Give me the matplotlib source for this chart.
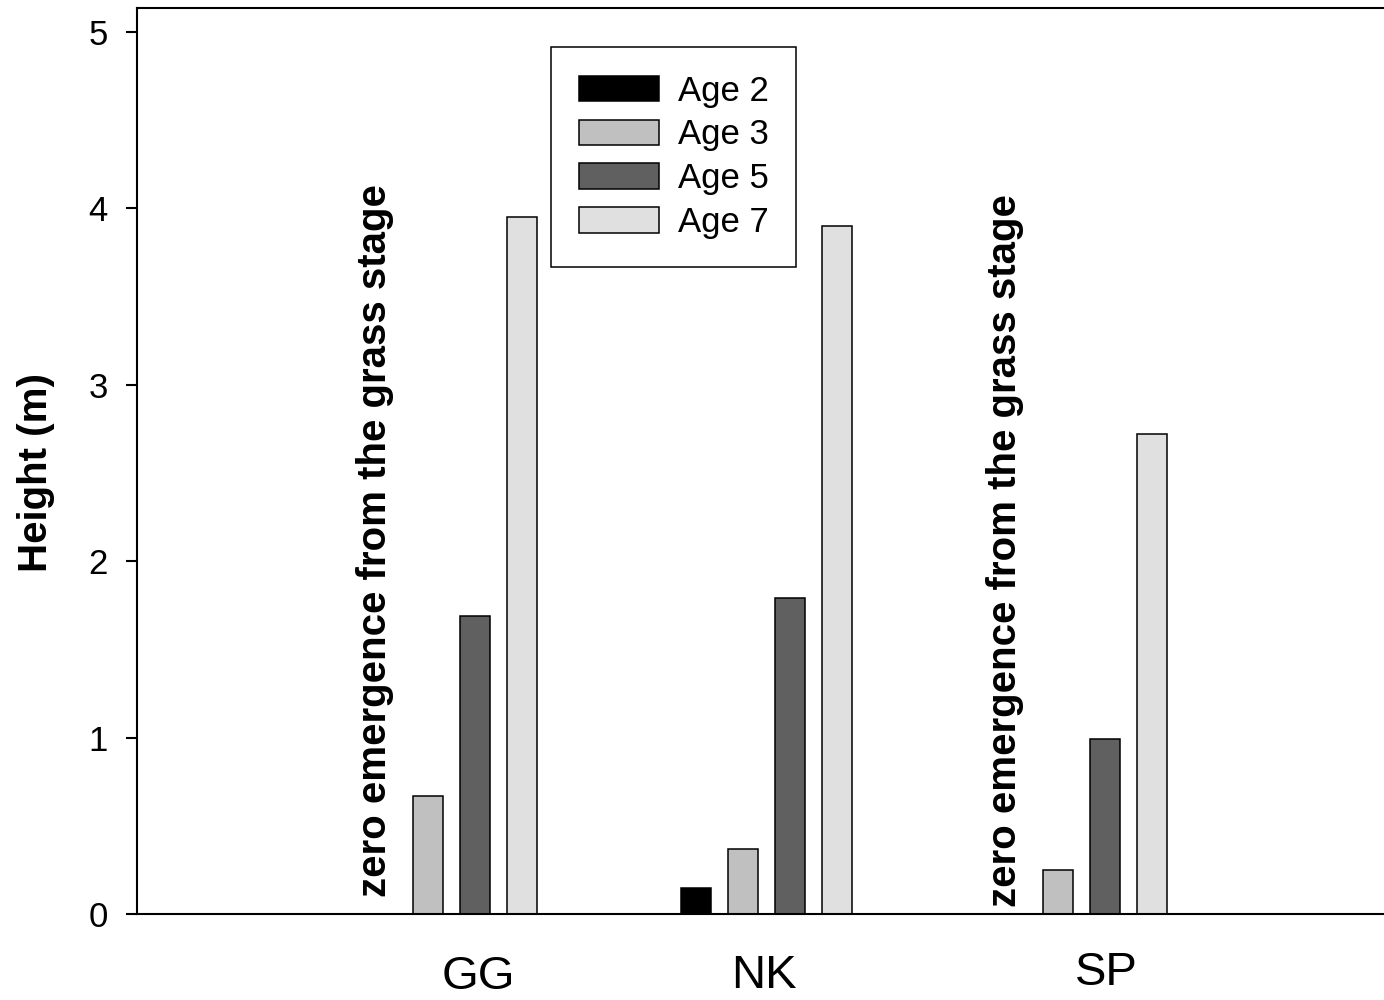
import numpy as np
import matplotlib
matplotlib.use('Agg')
import matplotlib.pyplot as plt

# data
sites = ['GG', 'NK', 'SP']
ages = ['Age 2', 'Age 3', 'Age 5', 'Age 7']
age2 = [np.nan, 0.15, np.nan]
age3 = [0.67, 0.37, 0.25]
age5 = [1.69, 1.79, 0.99]
age7 = [3.95, 3.90, 2.72]
colors = ['#000000', '#c0c0c0', '#606060', '#e0e0e0']
note = 'zero emergence from the grass stage'
no_emergence = ['GG', 'SP']

plt.rcParams['font.family'] = ['Liberation Sans', 'DejaVu Sans']

fig = plt.figure(figsize=(13.84, 10), dpi=100)
ax = fig.add_axes([137 / 1384, 0.086, 1 - 137 / 1384, 0.906])

x = np.arange(len(sites))
step = 0.149
width = 0.095
series = [age2, age3, age5, age7]
for i, (vals, col, lab) in enumerate(zip(series, colors, ages)):
    ax.bar(x + (i - 1.5) * step, vals, width, color=col, edgecolor='black',
           linewidth=1.1, label=lab)

# rotated notes where age 2 trees had not emerged
note_y = {'GG': 0.096, 'SP': 0.04}
for s in no_emergence:
    k = sites.index(s)
    ax.text(x[k] - 1.5 * step - 0.02, note_y[s], note, rotation=90, ha='center',
            va='bottom', fontsize=29, fontweight='bold')

# site labels sit a little off the group centres in the original
label_dx = [0.087, -0.008, 0.078]
label_y = [-0.094, -0.093, -0.089]
for k, s in enumerate(sites):
    ax.text(x[k] + label_dx[k], label_y[k], s, transform=ax.get_xaxis_transform(),
            ha='center', va='bottom', fontsize=34)

ax.set_xlim(-0.998, 2.96)
ax.set_ylim(0, 5.136)
ax.set_xticks([])
ax.set_yticks([0, 1, 2, 3, 4, 5])
ax.tick_params(axis='y', direction='out', length=8, width=1.5, labelsize=25, pad=13)
ax.spines['right'].set_visible(False)
for sp in ['left', 'bottom', 'top']:
    ax.spines[sp].set_linewidth(1.5)

ax.set_ylabel('Height (m)', fontsize=29, fontweight='bold')
ax.yaxis.set_label_coords(-0.066, 0.487)

leg = ax.legend(loc='upper left', bbox_to_anchor=(0.332, 0.957), fontsize=25,
                frameon=True, fancybox=False, edgecolor='black', framealpha=1,
                borderaxespad=0, handlelength=2.3, handleheight=0.75,
                labelspacing=0.31, borderpad=0.8, handletextpad=0.55)
leg.get_frame().set_linewidth(1.1)

fig.savefig('out.png', dpi=100)
